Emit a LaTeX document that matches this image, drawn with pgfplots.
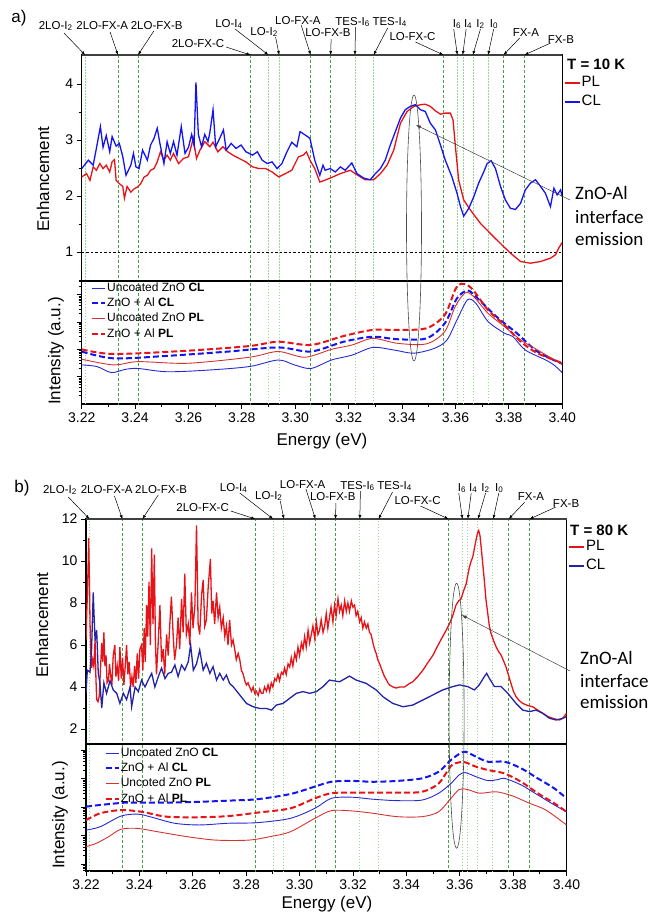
\documentclass[border=0pt]{standalone}
\usepackage{fontspec}
\setmainfont{Liberation Sans}
\newfontfamily\carlito{Carlito}
\usepackage{pgfplots}
\pgfplotsset{compat=1.18}
\usetikzlibrary{arrows.meta}

\definecolor{plred}{RGB}{230,20,25}
\definecolor{clblue}{RGB}{20,20,240}
\definecolor{clnavy}{RGB}{35,35,165}
\definecolor{thinred}{RGB}{215,50,50}
\definecolor{thinblue}{RGB}{40,40,215}
\definecolor{gdark}{RGB}{70,160,70}
\definecolor{glight}{RGB}{150,215,150}

\newcommand\fs[1]{\fontsize{#1}{#1}\selectfont}

% vertical marker lines (phonon replicas etc.)
\newcommand\vlines[2]{%
  \pgfplotsinvokeforeach{3.2213,3.2900,3.2940,3.3224,3.3294,3.3608,3.3628,3.3666,3.3723}{%
    \draw[glight, line width=0.7pt, dash pattern=on 1.5pt off 1.5pt] (axis cs:##1,#1) -- (axis cs:##1,#2);}%
  \pgfplotsinvokeforeach{3.2336,3.2411,3.2833,3.3058,3.3133,3.3556,3.3781,3.3859}{%
    \draw[gdark, line width=0.6pt, dash pattern=on 3pt off 2pt] (axis cs:##1,#1) -- (axis cs:##1,#2);}%
}

% label above the top frame: E, text dx, text dy, arrow dx, arrow dy, text
\newcommand\lab[6]{%
  \pgfmathsetmacro\tipx{\ox+(#1-3.22)*\kx}%
  \node[font=\fs{11.5}, inner sep=0pt] at ({(\tipx+#2)*1pt},{-(\oy-#3)*1pt}) {#6};
  \draw[line width=0.5pt, -{Latex[length=4pt,width=3pt]}] ({(\tipx+#4)*1pt},{-(\oy-#5)*1pt}) -- ({\tipx*1pt},{-\oy*1pt});}
\newcommand\alllabels{%
  \lab{3.2213}{-29.5}{29}{-21.2}{22}{2LO-I\textsubscript{2}}
  \lab{3.2336}{-15.7}{29}{-7.9}{23}{2LO-FX-A}
  \lab{3.2411}{18.7}{29}{15.8}{24}{2LO-FX-B}
  \lab{3.2833}{-52.6}{11}{-24.5}{8}{2LO-FX-C}
  \lab{3.2900}{-39.5}{31}{-33.4}{26}{LO-I\textsubscript{4}}
  \lab{3.2940}{-15.1}{23}{-3.6}{18}{LO-I\textsubscript{2}}
  \lab{3.3058}{-12.8}{34}{-9.5}{30}{LO-FX-A}
  \lab{3.3133}{-2.7}{22}{0.5}{16}{LO-FX-B}
  \lab{3.3224}{-2.3}{33}{0.6}{28}{TES-I\textsubscript{6}}
  \lab{3.3294}{16.1}{33}{14}{27}{TES-I\textsubscript{4}}
  \lab{3.3556}{-31}{18}{-28.1}{13}{LO-FX-C}
  \lab{3.3608}{-0.4}{31}{-3.7}{26}{I\textsubscript{6}}
  \lab{3.3628}{5.4}{31}{3.4}{26}{I\textsubscript{4}}
  \lab{3.3666}{7.6}{31}{7.6}{26}{I\textsubscript{2}}
  \lab{3.3723}{6}{31}{5.6}{26}{I\textsubscript{0}}
  \lab{3.3781}{22.3}{22}{16.1}{17}{FX-A}
  \lab{3.3859}{36.5}{15}{26.3}{12}{FX-B}}

\pgfplotsset{
  panel/.style={scale only axis, width=480.5pt, xmin=3.22, xmax=3.40,
    axis line style={line width=1.2pt}, tick style={black, line width=0.8pt},
    tick align=outside, major tick length=5pt, minor tick length=3pt, tick pos=left,
    /pgf/number format/assume math mode=true,
    ticklabel style={font=\fs{14}}, legend cell align=left},
  upper/.style={panel, xtick=\empty,
    legend image code/.code={\draw[##1] (0pt,0pt) -- (15pt,0pt);},
    legend style={at={(1,1)}, anchor=north west, xshift=2pt, yshift=-20pt,
      draw=none, fill=none, inner sep=0pt, font=\fs{15}, row sep=3.5pt,
      nodes={inner sep=1pt, text height=10.5pt, text depth=3pt}}},
  lower/.style={panel, xtick={3.22,3.24,3.26,3.28,3.30,3.32,3.34,3.36,3.38,3.40},
    minor x tick num=1,
    x tick label style={/pgf/number format/.cd, fixed, fixed zerofill, precision=2, /tikz/.cd},
    yticklabels={},
    legend image code/.code={\draw[##1] (0pt,0pt) -- (13pt,0pt);},
    legend style={at={(0,1)}, anchor=north west, xshift=9.3pt, yshift=0pt,
      draw=none, fill=none, inner sep=0pt, font=\fs{12}, row sep=1.8pt,
      nodes={inner sep=1pt, text height=9pt, text depth=2.5pt}}},
  thinb/.style={thinblue, line width=0.9pt, smooth, tension=0.5},
  thinr/.style={thinred, line width=0.9pt, smooth, tension=0.5},
  dashb/.style={clblue, line width=2pt, dash pattern=on 6pt off 3pt, smooth, tension=0.5},
  dashr/.style={plred, line width=2pt, dash pattern=on 6pt off 3pt, smooth, tension=0.5},
}

\begin{document}
\begin{tikzpicture}
\path[use as bounding box] (0pt,0pt) rectangle (648pt,-915pt);

%================ panel a, enhancement =================
\begin{axis}[upper, at={(81.7pt,-55pt)}, anchor=north west, height=226pt,
  ymin=0.482, ymax=4.518, ytick={1,2,3,4}, minor ytick={0.5,1.5,2.5,3.5}]
\vlines{0}{5}
\draw[black, line width=0.6pt, dash pattern=on 2.5pt off 2pt] (axis cs:3.22,1) -- (axis cs:3.40,1);
\addplot[plred, line width=1.3pt] coordinates {
(3.2200,2.34) (3.2218,2.40) (3.2231,2.28) (3.2243,2.52) (3.2255,2.46) (3.2268,2.58)
(3.2280,2.49) (3.2292,2.55) (3.2305,2.43) (3.2314,2.61) (3.2323,2.65) (3.2329,2.28)
(3.2341,2.22) (3.2354,2.17) (3.2360,1.96) (3.2370,2.17) (3.2384,2.07) (3.2397,2.13)
(3.2409,2.16) (3.2421,2.22) (3.2434,2.34) (3.2446,2.37) (3.2458,2.46) (3.2471,2.49)
(3.2483,2.61) (3.2495,2.79) (3.2508,2.64) (3.2520,2.73) (3.2532,2.64) (3.2544,2.76)
(3.2563,2.58) (3.2581,2.67) (3.2600,2.70) (3.2618,3.03) (3.2630,2.67) (3.2643,2.82)
(3.2661,2.97) (3.2680,2.88) (3.2692,2.96) (3.2710,2.79) (3.2729,2.88) (3.2747,2.79)
(3.2766,2.73) (3.2790,2.67) (3.2815,2.61) (3.2840,2.52) (3.2864,2.49) (3.2889,2.49)
(3.2913,2.43) (3.2938,2.34) (3.2963,2.40) (3.2987,2.46) (3.3012,2.70) (3.3030,2.73)
(3.3042,2.79) (3.3055,2.64) (3.3073,2.49) (3.3092,2.25) (3.3110,2.28) (3.3131,2.32)
(3.3169,2.40) (3.3206,2.46) (3.3231,2.38) (3.3262,2.29) (3.3294,2.29) (3.3319,2.40)
(3.3344,2.55) (3.3369,2.82) (3.3394,3.30) (3.3419,3.51) (3.3444,3.60) (3.3469,3.63)
(3.3487,3.64) (3.3506,3.60) (3.3525,3.52) (3.3544,3.46) (3.3562,3.48) (3.3581,3.48)
(3.3591,3.36) (3.3600,2.88) (3.3612,2.29) (3.3631,1.93) (3.3656,1.75) (3.3694,1.51)
(3.3731,1.33) (3.3769,1.15) (3.3806,0.98) (3.3844,0.83) (3.3881,0.80) (3.3919,0.83)
(3.3956,0.89) (3.3975,0.95) (3.3987,1.07) (3.4000,1.17)};
\addlegendentry{PL}
\addplot[clblue, line width=1.3pt] coordinates {
(3.2200,2.49) (3.2225,2.64) (3.2243,2.55) (3.2255,2.85) (3.2270,3.24) (3.2280,2.87)
(3.2292,3.08) (3.2305,2.79) (3.2314,3.06) (3.2329,2.89) (3.2341,2.94) (3.2354,2.70)
(3.2366,2.37) (3.2384,2.55) (3.2394,2.76) (3.2403,2.52) (3.2415,2.49) (3.2428,2.82)
(3.2446,2.64) (3.2458,2.91) (3.2471,3.03) (3.2483,3.21) (3.2493,2.94) (3.2508,2.58)
(3.2520,2.97) (3.2532,2.76) (3.2544,2.97) (3.2557,2.73) (3.2573,3.24) (3.2587,2.76)
(3.2600,2.87) (3.2612,3.10) (3.2621,2.90) (3.2628,4.03) (3.2637,3.10) (3.2649,2.88)
(3.2661,3.10) (3.2673,2.97) (3.2680,3.13) (3.2692,3.54) (3.2702,2.88) (3.2717,3.03)
(3.2731,3.18) (3.2741,2.82) (3.2760,2.94) (3.2778,2.85) (3.2797,2.91) (3.2815,2.79)
(3.2840,2.73) (3.2858,2.79) (3.2876,2.64) (3.2895,2.58) (3.2913,2.61) (3.2932,2.49)
(3.2950,2.58) (3.2969,2.79) (3.2987,2.96) (3.3006,2.88) (3.3018,3.15) (3.3037,3.09)
(3.3055,3.03) (3.3073,2.64) (3.3092,2.37) (3.3104,2.55) (3.3112,2.46) (3.3131,2.49)
(3.3150,2.43) (3.3169,2.52) (3.3187,2.46) (3.3212,2.59) (3.3231,2.40) (3.3256,2.32)
(3.3281,2.29) (3.3300,2.40) (3.3319,2.49) (3.3337,2.64) (3.3356,2.91) (3.3375,3.15)
(3.3394,3.39) (3.3412,3.54) (3.3431,3.60) (3.3450,3.63) (3.3469,3.54) (3.3487,3.51)
(3.3506,3.30) (3.3525,3.18) (3.3544,2.91) (3.3562,2.64) (3.3587,2.34) (3.3606,2.05)
(3.3619,1.81) (3.3631,1.64) (3.3650,1.78) (3.3669,1.99) (3.3687,2.23) (3.3706,2.43)
(3.3719,2.58) (3.3734,2.63) (3.3750,2.49) (3.3769,2.17) (3.3787,1.93) (3.3806,1.78)
(3.3825,1.76) (3.3844,1.87) (3.3862,2.11) (3.3881,2.23) (3.3900,2.29) (3.3919,2.17)
(3.3937,2.05) (3.3956,1.81) (3.3969,2.14) (3.3981,2.02) (3.3994,2.11) (3.4000,1.99)};
\addlegendentry{CL}
\end{axis}

%================ panel a, intensity =================
\begin{axis}[lower, at={(81.7pt,-281pt)}, anchor=north west, height=123pt,
  ymin=0, ymax=4.5, ytick={1,2,3,4},
  minor ytick={0.301,0.477,0.602,0.699,0.778,0.845,0.903,0.954,1.301,1.477,1.602,1.699,1.778,1.845,1.903,1.954,2.301,2.477,2.602,2.699,2.778,2.845,2.903,2.954,3.301,3.477,3.602,3.699,3.778,3.845,3.903,3.954,4.301,4.477}]
\vlines{-1}{6}
\addplot[thinb] coordinates {
(3.22,1.43) (3.2257,1.37) (3.2311,1.15) (3.2365,1.27) (3.2411,1.30) (3.2519,1.18)
(3.2673,1.24) (3.2828,1.37) (3.2936,1.61) (3.2997,1.43) (3.3059,1.30) (3.3136,1.61)
(3.3213,1.79) (3.3290,2.07) (3.3367,1.98) (3.3444,1.86) (3.3522,2.04) (3.3568,2.34)
(3.3606,3.08) (3.3645,3.81) (3.3676,3.69) (3.3722,3.02) (3.3784,2.59) (3.3815,2.47)
(3.3861,1.98) (3.3938,1.61) (3.3969,1.43) (3.4,1.15)};
\addlegendentry{Uncoated ZnO \textbf{CL}}
\addplot[dashb] coordinates {
(3.22,1.92) (3.2319,1.67) (3.2519,1.76) (3.2751,1.92) (3.2936,2.07) (3.3059,1.92)
(3.3182,2.28) (3.3290,2.46) (3.3383,2.37) (3.3491,2.40) (3.3560,2.95) (3.3606,3.87)
(3.3645,4.15) (3.3676,3.93) (3.3753,3.20) (3.3830,2.59) (3.3907,1.92) (3.4,1.47)};
\addlegendentry{ZnO + Al \textbf{CL}}
\addplot[thinr] coordinates {
(3.22,1.64) (3.2319,1.43) (3.2411,1.55) (3.2596,1.49) (3.2828,1.71) (3.2936,1.92)
(3.3036,1.71) (3.3136,2.0) (3.3213,2.16) (3.3290,2.40) (3.3383,2.22) (3.3491,2.20)
(3.3560,2.65) (3.3599,3.56) (3.3637,4.07) (3.3668,3.93) (3.3722,3.32) (3.3784,2.83)
(3.3845,2.34) (3.3907,1.98) (3.4,1.45)};
\addlegendentry{Uncoated ZnO \textbf{PL}}
\addplot[dashr] coordinates {
(3.22,2.0) (3.2319,1.83) (3.2596,1.95) (3.2828,2.12) (3.2936,2.28) (3.3059,2.16)
(3.3182,2.49) (3.3290,2.71) (3.3383,2.71) (3.3491,2.77) (3.3560,3.26) (3.3599,4.18)
(3.3622,4.40) (3.3660,4.24) (3.3722,3.44) (3.3784,2.89) (3.3845,2.28) (3.3907,1.86)
(3.4,1.50)};
\addlegendentry{ZnO + Al \textbf{PL}}
\end{axis}

%================ panel b, enhancement =================
\begin{axis}[upper, at={(86pt,-519pt)}, anchor=north west, height=225pt,
  ymin=1.286, ymax=12, ytick={2,4,6,8,10,12}, minor ytick={3,5,7,9,11}]
\vlines{0}{13}
\addplot[plred, line width=1.3pt] coordinates {
(3.2200,6.24) (3.2203,7.6) (3.2205,8.3) (3.2208,9.8) (3.2210,11.1) (3.2213,9.0)
(3.2215,7.1) (3.2218,5.6) (3.2221,4.9) (3.2225,5.3) (3.2229,5.0) (3.2234,6.2)
(3.2237,4.5) (3.2240,3.4) (3.2245,3.3) (3.2250,3.6) (3.2254,4.8) (3.2259,6.1)
(3.2263,5.2) (3.2267,6.6) (3.2271,5.0) (3.2275,5.5) (3.2279,4.2) (3.2284,4.3)
(3.2288,5.1) (3.2292,4.6) (3.2297,4.1) (3.2302,5.5) (3.2308,6.0) (3.2312,4.5)
(3.2317,5.0) (3.2322,4.3) (3.2327,5.9) (3.2332,4.4) (3.2337,5.4) (3.2342,4.1)
(3.2347,5.0) (3.2352,6.0) (3.2357,4.6) (3.2362,5.2) (3.2367,4.0) (3.2372,4.5)
(3.2377,4.0) (3.2382,5.0) (3.2387,4.2) (3.2392,5.6) (3.2397,4.4) (3.2402,5.8)
(3.2408,6.0) (3.2413,4.8) (3.2418,6.8) (3.2422,5.2) (3.2427,7.9) (3.2431,6.4)
(3.2436,9.0) (3.2441,6.0) (3.2446,10.6) (3.2451,7.0) (3.2456,10.3) (3.2460,6.2)
(3.2464,4.6) (3.2470,6.0) (3.2477,7.9) (3.2483,5.2) (3.2489,5.8) (3.2495,4.6)
(3.2502,6.5) (3.2508,5.5) (3.2514,7.0) (3.2520,8.3) (3.2526,6.6) (3.2532,5.3)
(3.2539,6.0) (3.2545,7.3) (3.2551,5.8) (3.2558,8.2) (3.2564,6.6) (3.2570,9.4)
(3.2576,6.5) (3.2583,7.0) (3.2589,6.0) (3.2595,8.5) (3.2601,6.8) (3.2608,7.9)
(3.2614,11.7) (3.2620,7.0) (3.2626,6.5) (3.2633,8.4) (3.2639,9.1) (3.2645,6.9)
(3.2651,7.2) (3.2658,8.8) (3.2666,10.1) (3.2671,7.5) (3.2676,8.1) (3.2682,7.0)
(3.2689,8.5) (3.2695,7.3) (3.2701,7.8) (3.2707,6.8) (3.2714,7.3) (3.2720,6.4)
(3.2726,6.9) (3.2732,6.0) (3.2738,7.2) (3.2745,6.0) (3.2751,6.24) (3.2757,5.8)
(3.2763,5.3) (3.2770,5.6) (3.2776,5.3) (3.2782,4.8) (3.2789,4.6) (3.2795,4.3)
(3.2801,4.1) (3.2807,4.2) (3.2813,4.0) (3.2820,3.8) (3.2826,4.0) (3.2832,3.7)
(3.2838,3.8) (3.2845,3.6) (3.2851,3.9) (3.2857,3.7) (3.2863,3.7) (3.2869,4.0)
(3.2876,3.8) (3.2882,4.1) (3.2888,3.8) (3.2894,4.2) (3.2900,4.0) (3.2907,4.4)
(3.2913,4.3) (3.2919,4.6) (3.2925,4.3) (3.2932,4.7) (3.2938,4.6) (3.2944,4.9)
(3.2950,4.6) (3.2957,5.1) (3.2963,4.95) (3.2969,5.4) (3.2975,5.0) (3.2982,5.6)
(3.2988,5.3) (3.2994,5.9) (3.3000,5.5) (3.3007,6.1) (3.3013,5.8) (3.3019,6.4)
(3.3025,5.9) (3.3032,6.7) (3.3038,6.1) (3.3044,6.5) (3.3050,6.9) (3.3057,6.3)
(3.3063,7.1) (3.3069,6.5) (3.3075,6.7) (3.3081,7.2) (3.3088,6.6) (3.3094,6.9)
(3.3100,7.5) (3.3106,6.8) (3.3112,7.3) (3.3118,7.8) (3.3125,7.1) (3.3131,7.9)
(3.3137,7.4) (3.3144,8.2) (3.3150,7.6) (3.3156,7.9) (3.3162,7.4) (3.3169,8.1)
(3.3175,7.6) (3.3181,8.0) (3.3187,7.6) (3.3194,8.1) (3.3200,7.8) (3.3206,7.9)
(3.3212,7.4) (3.3218,7.6) (3.3225,7.1) (3.3231,7.3) (3.3237,6.8) (3.3243,7.1)
(3.3250,6.8) (3.3256,7.0) (3.3262,6.6) (3.3268,6.5) (3.3275,6.1) (3.3281,5.8)
(3.3287,5.6) (3.3293,5.3) (3.3300,5.1) (3.3306,4.9) (3.3312,4.7) (3.3318,4.5)
(3.3325,4.35) (3.3331,4.2) (3.3337,4.1) (3.3350,4.0) (3.3362,3.95) (3.3375,4.0)
(3.3393,4.0) (3.3410,4.15) (3.3424,4.25) (3.3443,4.5) (3.3462,4.8) (3.3480,5.15)
(3.3499,5.5) (3.3517,5.95) (3.3536,6.4) (3.3549,6.7) (3.3561,7.0) (3.3574,7.4)
(3.3586,7.9) (3.3596,8.1) (3.3605,8.2) (3.3615,8.6) (3.3624,8.9) (3.3630,9.3)
(3.3636,9.7) (3.3643,10.0) (3.3649,10.2) (3.3655,10.6) (3.3661,11.0) (3.3667,11.35)
(3.3671,11.45) (3.3676,11.2) (3.3680,10.7) (3.3686,9.9) (3.3692,9.1) (3.3698,8.2)
(3.3705,7.5) (3.3711,6.9) (3.3717,6.56) (3.3727,6.2) (3.3736,5.92) (3.3745,5.7)
(3.3755,5.52) (3.3764,5.25) (3.3773,4.97) (3.3783,4.55) (3.3792,4.17) (3.3801,3.8)
(3.3811,3.54) (3.3823,3.35) (3.3836,3.22) (3.3855,3.12) (3.3873,3.06) (3.3892,2.9)
(3.3911,2.75) (3.3930,2.6) (3.3948,2.51) (3.3960,2.47) (3.3973,2.43) (3.3985,2.5)
(3.3991,2.59) (3.4000,2.75)};
\addlegendentry{PL}
\addplot[clnavy, line width=1.3pt] coordinates {
(3.2200,3.7) (3.2205,4.8) (3.2215,4.7) (3.2221,5.8) (3.2227,8.5) (3.2234,6.2)
(3.2240,6.7) (3.2246,4.65) (3.2252,4.2) (3.2259,3.0) (3.2267,4.2) (3.2277,3.7)
(3.2290,4.3) (3.2302,3.86) (3.2315,3.7) (3.2327,3.22) (3.2340,3.7) (3.2352,3.4)
(3.2365,4.0) (3.2371,3.06) (3.2384,4.0) (3.2396,3.78) (3.2408,4.33) (3.2421,4.0)
(3.2433,4.33) (3.2446,4.65) (3.2458,4.0) (3.2471,4.5) (3.2483,4.9) (3.2496,4.4)
(3.2508,4.65) (3.2520,4.7) (3.2533,5.05) (3.2545,4.5) (3.2558,5.05) (3.2570,4.8)
(3.2583,5.2) (3.2592,6.0) (3.2602,4.8) (3.2614,5.1) (3.2626,5.76) (3.2639,4.8)
(3.2651,5.13) (3.2664,4.65) (3.2676,4.97) (3.2689,4.33) (3.2701,4.65) (3.2714,4.33)
(3.2726,4.57) (3.2738,4.17) (3.2751,4.02) (3.2776,3.62) (3.2801,3.22) (3.2826,3.06)
(3.2851,2.98) (3.2876,2.98) (3.2895,2.9) (3.2913,3.14) (3.2938,3.22) (3.2963,3.46)
(3.2988,3.7) (3.3013,3.78) (3.3038,3.7) (3.3063,3.78) (3.3088,4.02) (3.3112,4.33)
(3.3150,4.25) (3.3187,4.52) (3.3212,4.33) (3.3250,4.17) (3.3287,3.86) (3.3312,3.54)
(3.3349,3.22) (3.3387,3.06) (3.3424,3.14) (3.3462,3.38) (3.3499,3.62) (3.3536,3.86)
(3.3574,4.02) (3.3599,4.1) (3.3630,4.02) (3.3655,3.86) (3.3673,4.1) (3.3692,4.49)
(3.3701,4.65) (3.3711,4.41) (3.3730,4.02) (3.3755,4.02) (3.3780,3.70) (3.3811,3.22)
(3.3836,2.90) (3.3861,2.83) (3.3886,2.90) (3.3911,2.75) (3.3936,2.51) (3.3961,2.43)
(3.3986,2.51) (3.4000,2.59)};
\addlegendentry{CL}
\end{axis}

%================ panel b, intensity =================
\begin{axis}[lower, at={(86pt,-744pt)}, anchor=north west, height=127pt,
  ymin=-0.23, ymax=4.21, ytick={0,1,2,3,4},
  minor ytick={-0.222,-0.155,-0.097,-0.046,0.301,0.477,0.602,0.699,0.778,0.845,0.903,0.954,1.301,1.477,1.602,1.699,1.778,1.845,1.903,1.954,2.301,2.477,2.602,2.699,2.778,2.845,2.903,2.954,3.301,3.477,3.602,3.699,3.778,3.845,3.903,3.954},
  legend style={xshift=9.3pt, yshift=-2pt}]
\vlines{-1}{6}
\addplot[thinb] coordinates {
(3.22,1.20) (3.2254,1.32) (3.2331,1.69) (3.2393,1.76) (3.2439,1.67) (3.2532,1.44)
(3.2625,1.38) (3.2733,1.44) (3.2841,1.46) (3.2965,1.61) (3.3057,1.96) (3.3119,2.31)
(3.3197,2.35) (3.3274,2.28) (3.3366,2.23) (3.3459,2.25) (3.3521,2.49) (3.3567,2.83)
(3.3598,3.13) (3.3621,3.21) (3.3660,3.07) (3.3706,2.93) (3.3745,2.97) (3.3768,3.01)
(3.3830,2.78) (3.3892,2.43) (3.3954,2.08) (3.40,1.84)};
\addlegendentry{Uncoated ZnO \textbf{CL}}
\addplot[dashb] coordinates {
(3.22,2.02) (3.2254,2.08) (3.2347,2.16) (3.2424,2.16) (3.2501,2.16) (3.2625,2.19)
(3.2733,2.23) (3.2841,2.28) (3.2965,2.46) (3.3057,2.72) (3.3119,2.89) (3.3197,2.92)
(3.3274,2.89) (3.3366,2.92) (3.3459,3.01) (3.3521,3.24) (3.3567,3.65) (3.3598,3.86)
(3.3621,3.94) (3.3660,3.77) (3.3706,3.59) (3.3768,3.59) (3.3830,3.36) (3.3892,3.01)
(3.3954,2.66) (3.40,2.31)};
\addlegendentry{ZnO + Al \textbf{CL}}
\addplot[thinr] coordinates {
(3.22,0.62) (3.2239,0.74) (3.2285,0.97) (3.2331,1.23) (3.2393,1.26) (3.2470,1.14)
(3.2579,0.97) (3.2687,0.85) (3.2810,0.85) (3.2888,0.97) (3.2965,1.14) (3.3057,1.61)
(3.3119,1.88) (3.3197,1.87) (3.3274,1.79) (3.3366,1.67) (3.3459,1.67) (3.3521,1.84)
(3.3567,2.31) (3.3598,2.62) (3.3629,2.62) (3.3675,2.49) (3.3737,2.54) (3.3799,2.39)
(3.3861,2.14) (3.3923,1.90) (3.40,1.38)};
\addlegendentry{Uncoted ZnO \textbf{PL}}
\addplot[dashr] coordinates {
(3.22,1.55) (3.2254,1.79) (3.2331,1.90) (3.2409,1.84) (3.2501,1.67) (3.2625,1.65)
(3.2733,1.69) (3.2841,1.81) (3.2965,1.96) (3.3057,2.31) (3.3119,2.49) (3.3197,2.51)
(3.3274,2.51) (3.3366,2.51) (3.3459,2.54) (3.3521,2.83) (3.3567,3.44) (3.3598,3.57)
(3.3621,3.57) (3.3660,3.42) (3.3706,3.30) (3.3768,3.18) (3.3830,2.89) (3.3892,2.49)
(3.3954,2.14) (3.40,1.84)};
\addlegendentry{ZnO + Al \textbf{PL}}
\end{axis}

%================ annotations =================
% heavier grey top frame of each enhancement panel
\draw[black!75, line width=2pt] (81.7pt,-55pt) -- (562.2pt,-55pt);
\draw[black!75, line width=2pt] (86pt,-519pt) -- (566.5pt,-519pt);

\def\ox{81.7}\def\oy{55}\def\kx{2668.3}
\alllabels
\def\ox{86}\def\oy{519}\def\kx{2673.9}
\alllabels

\node[font=\fs{17}] at (19pt,-18pt) {a)};
\node[font=\fs{17}] at (22pt,-488pt) {b)};

\node[font=\fs{17}, rotate=90] at (43pt,-179pt) {Enhancement};
\node[font=\fs{17}, rotate=90] at (56pt,-351pt) {Intensity (a.u.)};
\node[font=\fs{17}] at (322pt,-441pt) {Energy (eV)};
\node[font=\fs{17}, rotate=90] at (42pt,-625pt) {Enhancement};
\node[font=\fs{17}, rotate=90] at (60pt,-815pt) {Intensity (a.u.)};
\node[font=\fs{17}] at (327pt,-904pt) {Energy (eV)};

\node[font=\bfseries\fs{15}, anchor=west, inner sep=0pt] at (567pt,-64pt) {T = 10 K};
\node[font=\bfseries\fs{15}, anchor=west, inner sep=0pt] at (570pt,-530pt) {T = 80 K};

\draw[black!70, line width=0.6pt] (414pt,-228pt) ellipse [x radius=7.5pt, y radius=133pt];
\draw[black!70, line width=0.6pt] (456.6pt,-715.7pt) ellipse [x radius=7.5pt, y radius=132.5pt];
\draw[black!75, line width=0.5pt, -{Latex[length=5pt,width=3.5pt]}] (570pt,-200pt) -- (416pt,-125pt);
\draw[black!75, line width=0.5pt, -{Latex[length=5pt,width=3.5pt]}] (570pt,-671pt) -- (461.7pt,-615pt);

\node[font=\carlito\fs{19}, anchor=base west, inner sep=0pt] at (575pt,-199pt) {ZnO-Al};
\node[font=\carlito\fs{19}, anchor=base west, inner sep=0pt] at (575pt,-223pt) {interface};
\node[font=\carlito\fs{19}, anchor=base west, inner sep=0pt] at (575pt,-245pt) {emission};
\node[font=\carlito\fs{19}, anchor=base west, inner sep=0pt] at (580pt,-664pt) {ZnO-Al};
\node[font=\carlito\fs{19}, anchor=base west, inner sep=0pt] at (580pt,-687pt) {interface};
\node[font=\carlito\fs{19}, anchor=base west, inner sep=0pt] at (580pt,-708pt) {emission};
\end{tikzpicture}
\end{document}
